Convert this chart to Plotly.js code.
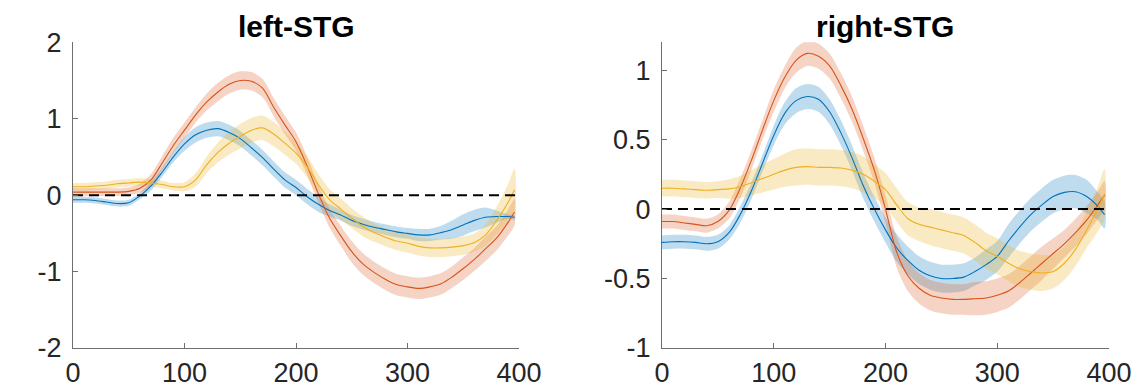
<!DOCTYPE html>
<html>
<head>
<meta charset="utf-8">
<script src="https://cdn.plot.ly/plotly-3.0.1.min.js"></script>
<style>
  html, body { margin: 0; padding: 0; background: #ffffff; }
  #chart { width: 1137px; height: 392px; }
</style>
</head>
<body>
<div id="chart"></div>
<script>
// Time axis (ms), shared by both panels
const time = [0,10,20,30,40,50,60,70,80,90,100,110,120,130,140,150,160,170,180,190,200,
              210,220,230,240,250,260,270,280,290,300,310,320,330,340,350,360,370,380,390,396];

// left-STG: condition means and shaded half-widths
const leftBlue = [-0.06,-0.06,-0.07,-0.09,-0.11,-0.10,-0.01,0.12,0.30,0.50,0.67,0.79,0.85,0.87,0.82,0.74,0.62,0.49,0.34,0.20,0.10,
                  -0.02,-0.12,-0.20,-0.26,-0.33,-0.38,-0.42,-0.45,-0.48,-0.50,-0.52,-0.52,-0.49,-0.45,-0.39,-0.33,-0.29,-0.28,-0.28,-0.29];
const leftBlueErr = [0.04,0.04,0.04,0.04,0.04,0.04,0.04,0.06,0.06,0.07,0.09,0.10,0.10,0.10,0.10,0.10,0.10,0.10,0.10,0.10,0.10,
                     0.10,0.10,0.08,0.07,0.07,0.07,0.07,0.07,0.07,0.07,0.08,0.08,0.09,0.12,0.14,0.14,0.13,0.08,0.03,0.03];
const leftRed = [0.04,0.04,0.04,0.04,0.04,0.05,0.09,0.20,0.42,0.65,0.85,1.05,1.22,1.35,1.45,1.50,1.49,1.40,1.15,0.92,0.70,
                 0.38,0.02,-0.30,-0.53,-0.74,-0.90,-1.01,-1.10,-1.17,-1.20,-1.22,-1.20,-1.16,-1.07,-0.96,-0.84,-0.70,-0.56,-0.36,-0.22];
const leftRedErr = [0.05,0.05,0.05,0.05,0.05,0.05,0.06,0.08,0.09,0.10,0.10,0.10,0.11,0.12,0.12,0.12,0.12,0.12,0.12,0.12,0.12,
                    0.12,0.12,0.12,0.13,0.14,0.14,0.14,0.14,0.14,0.14,0.14,0.14,0.14,0.14,0.15,0.15,0.16,0.16,0.17,0.17];
const leftYellow = [0.11,0.11,0.12,0.13,0.15,0.16,0.17,0.16,0.14,0.11,0.11,0.20,0.40,0.56,0.68,0.77,0.85,0.88,0.80,0.68,0.55,
                    0.37,0.14,-0.06,-0.18,-0.30,-0.41,-0.49,-0.55,-0.60,-0.63,-0.67,-0.69,-0.69,-0.68,-0.66,-0.62,-0.52,-0.33,-0.10,0.07];
const leftYellowErr = [0.05,0.05,0.05,0.05,0.05,0.05,0.05,0.05,0.05,0.05,0.06,0.09,0.11,0.13,0.15,0.16,0.16,0.16,0.16,0.15,0.14,
                       0.14,0.14,0.14,0.14,0.13,0.13,0.12,0.12,0.12,0.12,0.12,0.12,0.12,0.12,0.12,0.12,0.14,0.18,0.24,0.28];

// right-STG: condition means and shaded half-widths
const rightBlue = [-0.24,-0.235,-0.235,-0.24,-0.25,-0.235,-0.17,-0.04,0.13,0.33,0.53,0.69,0.78,0.81,0.79,0.70,0.55,0.37,0.17,0.00,-0.15,
                   -0.28,-0.37,-0.44,-0.48,-0.50,-0.50,-0.49,-0.45,-0.40,-0.34,-0.23,-0.13,-0.04,0.03,0.09,0.12,0.125,0.09,0.02,-0.04];
const rightBlueErr = [0.05,0.05,0.05,0.05,0.05,0.05,0.05,0.06,0.06,0.06,0.07,0.08,0.09,0.09,0.09,0.09,0.09,0.09,0.09,0.09,0.09,
                      0.10,0.10,0.10,0.10,0.10,0.10,0.10,0.10,0.11,0.11,0.12,0.12,0.12,0.12,0.12,0.12,0.12,0.12,0.10,0.10];
const rightRed = [-0.09,-0.09,-0.10,-0.11,-0.12,-0.09,-0.01,0.15,0.35,0.57,0.78,0.95,1.07,1.12,1.10,1.03,0.89,0.72,0.51,0.28,0.00,
                  -0.31,-0.48,-0.57,-0.62,-0.64,-0.65,-0.65,-0.645,-0.64,-0.62,-0.59,-0.53,-0.46,-0.39,-0.32,-0.25,-0.17,-0.08,0.03,0.10];
const rightRedErr = [0.05,0.05,0.05,0.05,0.05,0.05,0.06,0.07,0.07,0.07,0.08,0.08,0.09,0.09,0.09,0.09,0.09,0.09,0.09,0.09,0.10,
                     0.11,0.11,0.11,0.11,0.11,0.11,0.11,0.12,0.12,0.12,0.12,0.12,0.12,0.12,0.11,0.10,0.10,0.10,0.10,0.10];
const rightYellow = [0.15,0.15,0.145,0.14,0.135,0.14,0.145,0.16,0.19,0.22,0.25,0.28,0.30,0.305,0.30,0.30,0.295,0.28,0.25,0.20,0.14,
                     0.03,-0.07,-0.11,-0.13,-0.15,-0.17,-0.19,-0.24,-0.30,-0.34,-0.39,-0.43,-0.45,-0.46,-0.45,-0.39,-0.29,-0.15,0.00,0.11];
const rightYellowErr = [0.06,0.06,0.06,0.06,0.06,0.06,0.07,0.08,0.09,0.10,0.11,0.12,0.13,0.13,0.13,0.13,0.13,0.13,0.13,0.12,0.12,
                        0.12,0.12,0.12,0.13,0.13,0.13,0.13,0.13,0.13,0.13,0.13,0.13,0.13,0.13,0.12,0.12,0.12,0.13,0.16,0.18];

// Axis ticks
const xTicks = [0, 100, 200, 300, 400];
const leftYTicks = [-2, -1, 0, 1, 2];
const leftYLabels = ['-2', '-1', '0', '1', '2'];
const rightYTicks = [-1, -0.5, 0, 0.5, 1];
const rightYLabels = ['-1', '-0.5', '0', '0.5', '1'];

const BLUE = '#0072BD', RED = '#D95319', YELLOW = '#EDB120';
const FAINT = { '#0072BD': 'rgba(0,114,189,0.25)', '#D95319': 'rgba(217,83,25,0.25)', '#EDB120': 'rgba(237,177,32,0.27)' };

function band(x, y, e, color, xa, ya) {
  const up = y.map((v, i) => v + e[i]);
  const lo = y.map((v, i) => v - e[i]);
  return {
    x: x.concat(x.slice().reverse()),
    y: up.concat(lo.slice().reverse()),
    xaxis: xa, yaxis: ya,
    type: 'scatter', mode: 'lines', fill: 'toself',
    fillcolor: FAINT[color], line: { width: 0, shape: 'spline', smoothing: 0.8 },
    hoverinfo: 'skip', showlegend: false
  };
}
function curve(x, y, color, xa, ya) {
  return {
    x: x, y: y, xaxis: xa, yaxis: ya,
    type: 'scatter', mode: 'lines',
    line: { color: color, width: 1.1, shape: 'spline', smoothing: 0.8 },
    showlegend: false
  };
}
function zeroLine(xa, ya) {
  return {
    x: [0, 400], y: [0, 0], xaxis: xa, yaxis: ya,
    type: 'scatter', mode: 'lines',
    line: { color: '#000000', width: 2, dash: '10px,6px' },
    hoverinfo: 'skip', showlegend: false
  };
}

const traces = [
  band(time, leftBlue, leftBlueErr, BLUE, 'x', 'y'),
  band(time, leftRed, leftRedErr, RED, 'x', 'y'),
  band(time, leftYellow, leftYellowErr, YELLOW, 'x', 'y'),
  curve(time, leftBlue, BLUE, 'x', 'y'),
  curve(time, leftRed, RED, 'x', 'y'),
  curve(time, leftYellow, YELLOW, 'x', 'y'),
  zeroLine('x', 'y'),
  band(time, rightBlue, rightBlueErr, BLUE, 'x2', 'y2'),
  band(time, rightRed, rightRedErr, RED, 'x2', 'y2'),
  band(time, rightYellow, rightYellowErr, YELLOW, 'x2', 'y2'),
  curve(time, rightBlue, BLUE, 'x2', 'y2'),
  curve(time, rightRed, RED, 'x2', 'y2'),
  curve(time, rightYellow, YELLOW, 'x2', 'y2'),
  zeroLine('x2', 'y2')
];

const FONT = 'Liberation Sans, Arial, Helvetica, sans-serif';
const AXIS_COLOR = '#6e6e6e';
function xAxis(domain, anchor) {
  return {
    domain: domain, anchor: anchor, range: [0, 400],
    tickvals: xTicks, ticktext: xTicks.map(String),
    ticks: 'inside', ticklen: 5, tickwidth: 1, tickcolor: AXIS_COLOR,
    showline: true, linecolor: AXIS_COLOR, linewidth: 1,
    showgrid: false, zeroline: false,
    ticklabelstandoff: 1,
    tickfont: { family: FONT, size: 27, color: '#262626' },
    fixedrange: true
  };
}
function yAxis(range, vals, labels, anchor) {
  return {
    domain: [0.1122, 0.8921], anchor: anchor, range: range,
    tickvals: vals, ticktext: labels,
    ticks: 'inside', ticklen: 5, tickwidth: 1, tickcolor: AXIS_COLOR,
    showline: true, linecolor: AXIS_COLOR, linewidth: 1,
    showgrid: false, zeroline: false,
    ticklabelstandoff: 5,
    tickfont: { family: FONT, size: 27, color: '#262626' },
    fixedrange: true
  };
}

const layout = {
  width: 1137, height: 392,
  margin: { l: 0, r: 0, t: 0, b: 0 },
  paper_bgcolor: '#ffffff', plot_bgcolor: '#ffffff',
  showlegend: false,
  xaxis: xAxis([0.0642, 0.4565], 'y'),
  yaxis: yAxis([-2, 2], leftYTicks, leftYLabels, 'x'),
  xaxis2: xAxis([0.5822, 0.9754], 'y2'),
  yaxis2: yAxis([-1, 1.2], rightYTicks, rightYLabels, 'x2'),
  annotations: [
    { text: '<b>left-STG</b>', xref: 'paper', yref: 'paper', x: (0.0642 + 0.4565) / 2, y: (392 - 27) / 392,
      xanchor: 'center', yanchor: 'middle', showarrow: false,
      font: { family: FONT, size: 30, color: '#000000' } },
    { text: '<b>right-STG</b>', xref: 'paper', yref: 'paper', x: (0.5822 + 0.9754) / 2, y: (392 - 27) / 392,
      xanchor: 'center', yanchor: 'middle', showarrow: false,
      font: { family: FONT, size: 30, color: '#000000' } }
  ]
};

Plotly.newPlot('chart', traces, layout, { staticPlot: true, displayModeBar: false });
</script>
</body>
</html>
